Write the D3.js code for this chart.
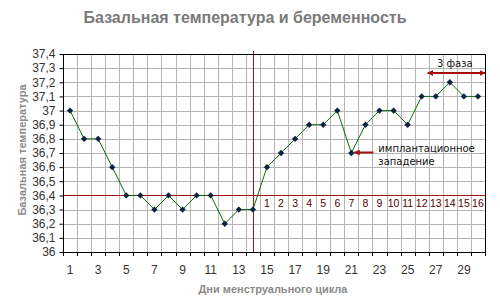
<!DOCTYPE html>
<html>
<head>
<meta charset="utf-8">
<script src="https://cdn.jsdelivr.net/npm/d3@7"></script>
<style>
  body { margin: 0; background: #fff; }
  svg { display: block; }
</style>
</head>
<body>
<div id="chart"></div>
<script>
// data
const days = d3.range(1, 31);
const temps = [37.0, 36.8, 36.8, 36.6, 36.4, 36.4, 36.3, 36.4, 36.3, 36.4,
               36.4, 36.2, 36.3, 36.3, 36.6, 36.7, 36.8, 36.9, 36.9, 37.0,
               36.7, 36.9, 37.0, 37.0, 36.9, 37.1, 37.1, 37.2, 37.1, 37.1];
const yTicks = [36, 36.1, 36.2, 36.3, 36.4, 36.5, 36.6, 36.7, 36.8, 36.9, 37, 37.1, 37.2, 37.3, 37.4];
const xLabelDays = d3.range(1, 30, 2);
const ovulationDay = 14;
const coverLine = 36.4;
const phaseDays = d3.range(15, 31);          // days after ovulation, numbered 1..16
const dipDay = 21;
const phase3Start = 27;

const width = 500, height = 303;
const margin = {top: 54, right: 15, bottom: 51, left: 63};

const svg = d3.select("#chart").append("svg")
  .attr("width", width)
  .attr("height", height);

const x = d3.scaleBand()
  .domain(days)
  .range([margin.left, width - margin.right])
  .padding(0);

const y = d3.scaleLinear()
  .domain([36, 37.4])
  .range([height - margin.bottom, margin.top]);

const cx = d => x(d) + x.bandwidth() / 2;
const red = "#a50f0f";

// grid
let grid = svg.append("g").attr("stroke", "#b4b4b4").attr("stroke-width", 1);
grid.selectAll(".h").data(yTicks).join("line")
  .attr("x1", margin.left).attr("x2", width - margin.right)
  .attr("y1", d => Math.round(y(d)) + 0.5).attr("y2", d => Math.round(y(d)) + 0.5);
grid.selectAll(".v").data(days).join("line")
  .attr("x1", d => Math.round(x(d)) + 0.5).attr("x2", d => Math.round(x(d)) + 0.5)
  .attr("y1", margin.top).attr("y2", height - margin.bottom);

// cover line and ovulation line
svg.append("line")
  .attr("x1", margin.left).attr("x2", width - margin.right)
  .attr("y1", Math.round(y(coverLine)) + 0.5).attr("y2", Math.round(y(coverLine)) + 0.5)
  .attr("stroke", "#a31515");
svg.append("line")
  .attr("x1", Math.round(cx(ovulationDay)) + 0.5).attr("x2", Math.round(cx(ovulationDay)) + 0.5)
  .attr("y1", margin.top - 3).attr("y2", height - margin.bottom)
  .attr("stroke", "#a31515");

// frame
svg.append("rect")
  .attr("x", margin.left + 0.5).attr("y", margin.top + 0.5)
  .attr("width", width - margin.left - margin.right)
  .attr("height", height - margin.top - margin.bottom)
  .attr("fill", "none").attr("stroke", "#000");

// y axis
const yAxis = d3.axisLeft(y)
  .tickValues(yTicks)
  .tickSize(4)
  .tickFormat(d => String(+d.toFixed(1)).replace(".", ","));
svg.append("g")
  .attr("transform", `translate(${margin.left + 0.5},0)`)
  .call(yAxis)
  .call(g => g.select(".domain").remove())
  .call(g => g.selectAll("text").attr("font-family", "Liberation Sans, Arial").attr("font-size", 12).attr("fill", "#333").attr("dx", -1));

// x axis: ticks on category boundaries, labels on odd days
const xAxis = svg.append("g");
xAxis.selectAll("line").data(days.concat([31])).join("line")
  .attr("x1", d => d <= 30 ? Math.round(x(d)) + 0.5 : width - margin.right + 0.5)
  .attr("x2", d => d <= 30 ? Math.round(x(d)) + 0.5 : width - margin.right + 0.5)
  .attr("y1", height - margin.bottom).attr("y2", height - margin.bottom + 4)
  .attr("stroke", "#000");
xAxis.selectAll("text").data(xLabelDays).join("text")
  .attr("x", d => cx(d)).attr("y", 274)
  .attr("text-anchor", "middle")
  .attr("font-family", "Liberation Sans, Arial").attr("font-size", 12).attr("fill", "#333")
  .text(d => d);

// post-ovulation day numbers
svg.append("g").selectAll("text").data(phaseDays).join("text")
  .attr("x", d => cx(d)).attr("y", 207)
  .attr("text-anchor", "middle")
  .attr("font-family", "Liberation Sans, Arial").attr("font-size", 10.5).attr("fill", "#5a0000")
  .text((d, i) => i + 1);

// temperature line
const line = d3.line()
  .x((d, i) => cx(days[i]))
  .y(d => y(d));
svg.append("path")
  .datum(temps)
  .attr("d", line)
  .attr("fill", "none")
  .attr("stroke", "#0b6b0b")
  .attr("stroke-width", 1);

svg.append("g").selectAll("path").data(temps).join("path")
  .attr("transform", (d, i) => `translate(${cx(days[i])},${y(d)}) rotate(45)`)
  .attr("d", d3.symbol(d3.symbolSquare, 20))
  .attr("fill", "#0c2340");

// arrows
const defs = svg.append("defs");
defs.append("marker")
  .attr("id", "arr")
  .attr("viewBox", "0 0 10 10")
  .attr("refX", 9).attr("refY", 5)
  .attr("markerWidth", 3).attr("markerHeight", 3)
  .attr("orient", "auto-start-reverse")
  .append("path").attr("d", "M0,0L10,5L0,10z").attr("fill", red);

// implantation dip annotation
svg.append("line")
  .attr("x1", cx(dipDay) + 22).attr("x2", cx(dipDay) + 3)
  .attr("y1", y(temps[dipDay - 1]) - 0.5).attr("y2", y(temps[dipDay - 1]) - 0.5)
  .attr("stroke", red).attr("stroke-width", 2)
  .attr("marker-end", "url(#arr)");
svg.append("text")
  .attr("x", cx(dipDay) + 27).attr("y", y(temps[dipDay - 1]) - 1)
  .attr("font-family", "DejaVu Sans, Verdana").attr("font-size", 10).attr("fill", "#111")
  .text("имплантационное");
svg.append("text")
  .attr("x", cx(dipDay) + 27).attr("y", y(temps[dipDay - 1]) + 12)
  .attr("font-family", "DejaVu Sans, Verdana").attr("font-size", 10).attr("fill", "#111")
  .text("западение");

// phase 3 arrow
svg.append("line")
  .attr("x1", x(phase3Start) - 1).attr("x2", width - margin.right)
  .attr("y1", 73).attr("y2", 73)
  .attr("stroke", red).attr("stroke-width", 2)
  .attr("marker-start", "url(#arr)")
  .attr("marker-end", "url(#arr)");
svg.append("text")
  .attr("x", 437).attr("y", 67)
  .attr("font-family", "DejaVu Sans, Verdana").attr("font-size", 10).attr("fill", "#111")
  .text("3 фаза");

// titles
svg.append("text")
  .attr("x", 245).attr("y", 23)
  .attr("text-anchor", "middle")
  .attr("font-family", "Liberation Sans, Arial").attr("font-weight", "bold")
  .attr("font-size", 16).attr("fill", "#7a7a7a")
  .text("Базальная температура и беременность");

svg.append("text")
  .attr("transform", "translate(26,150) rotate(-90)")
  .attr("text-anchor", "middle")
  .attr("font-family", "Liberation Sans, Arial").attr("font-weight", "bold")
  .attr("font-size", 11).attr("fill", "#8a8a8a")
  .text("Базальная температура");

svg.append("text")
  .attr("x", 273).attr("y", 293)
  .attr("text-anchor", "middle")
  .attr("font-family", "Liberation Sans, Arial").attr("font-weight", "bold")
  .attr("font-size", 11).attr("fill", "#8a8a8a")
  .text("Дни менструального цикла");
</script>
</body>
</html>
